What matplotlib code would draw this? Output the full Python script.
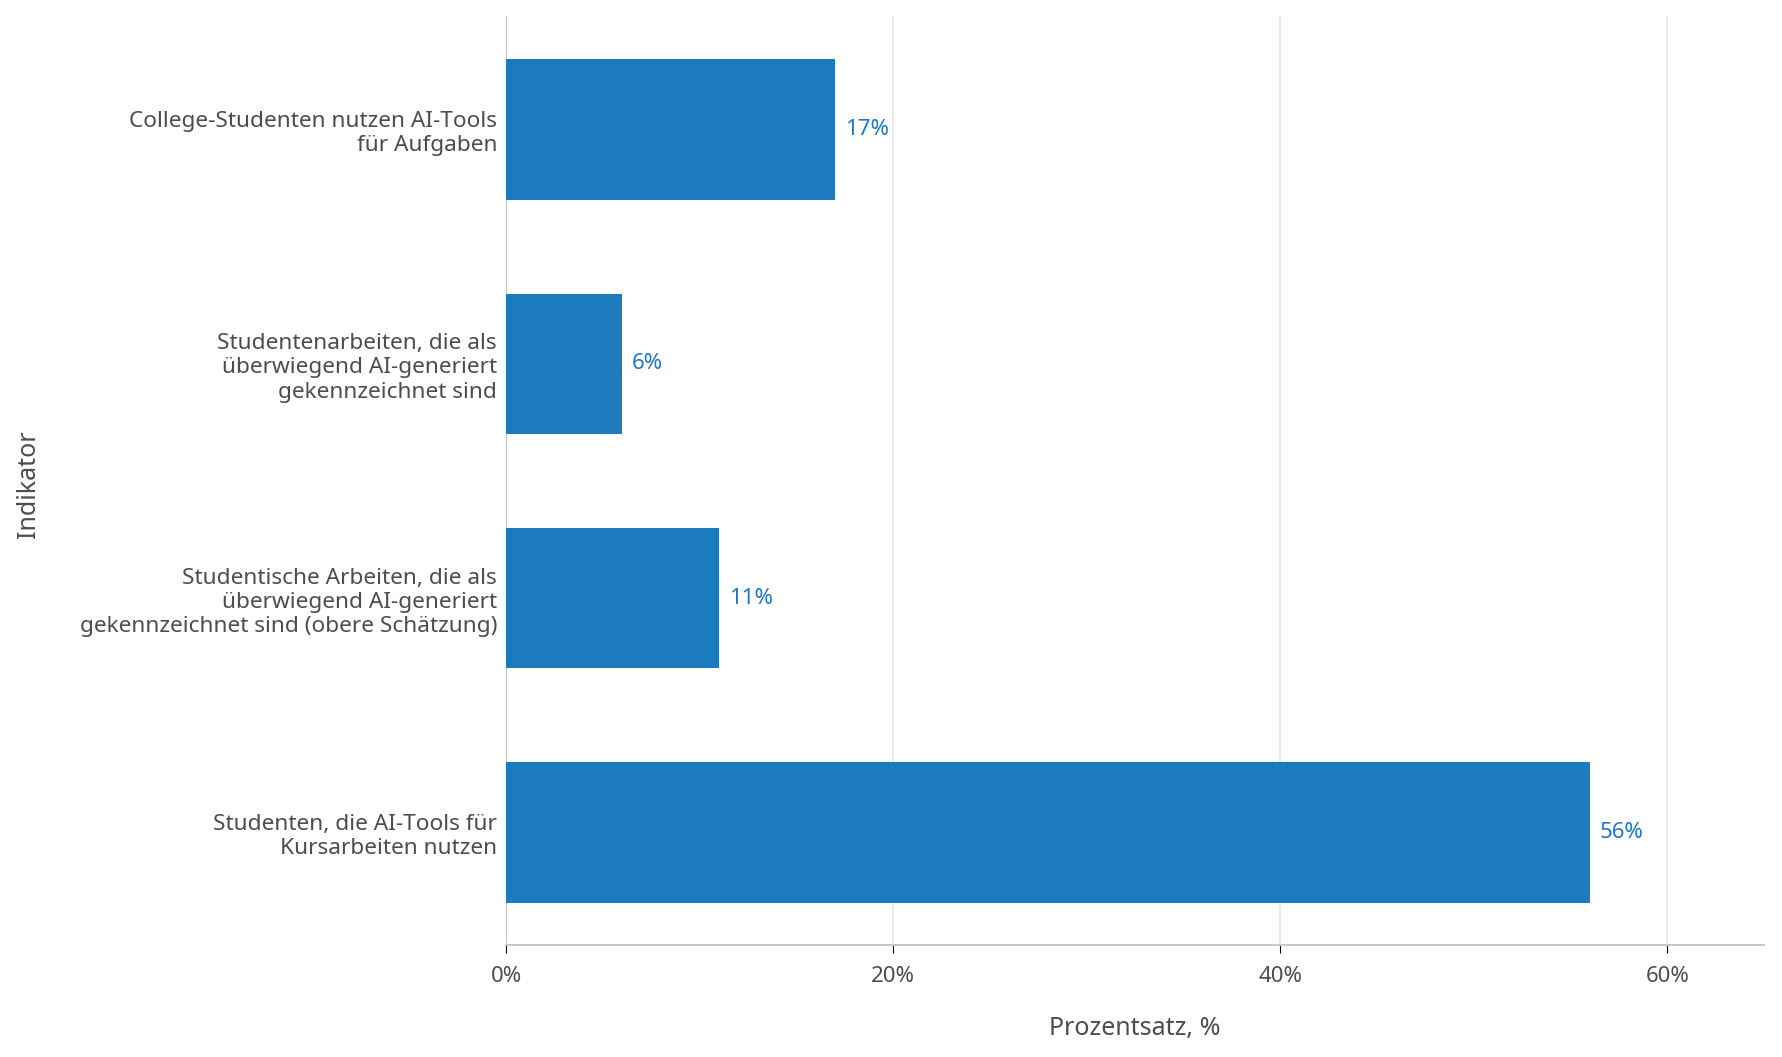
import matplotlib.pyplot as plt
from matplotlib.ticker import FuncFormatter

plt.rcParams['font.family'] = ['Noto Sans', 'DejaVu Sans']

# Daten (von oben nach unten)
indikatoren = [
    'College-Studenten nutzen AI-Tools\nfür Aufgaben',
    'Studentenarbeiten, die als\nüberwiegend AI-generiert\ngekennzeichnet sind',
    'Studentische Arbeiten, die als\nüberwiegend AI-generiert\ngekennzeichnet sind (obere Schätzung)',
    'Studenten, die AI-Tools für\nKursarbeiten nutzen',
]
werte = [17, 6, 11, 56]
x_ticks = [0, 20, 40, 60]

text_farbe = '#4d4d4d'
balken_farbe = '#1c7bbf'

fig = plt.figure(figsize=(17.82, 10.57), dpi=100)
ax = fig.add_axes([0.284, 0.106, 0.706, 0.879])

# umgekehrte Reihenfolge, damit der erste Eintrag oben steht
pos = list(range(len(werte)))[::-1]
ax.barh(pos, werte, height=0.6, color=balken_farbe, zorder=3)

for p, w in zip(pos, werte):
    ax.annotate(f'{w}%', xy=(w, p), xytext=(7, 0), textcoords='offset points',
                va='center', ha='left', fontsize=16, color='#1f77c8')

ax.set_xlim(0, 65)
ax.set_ylim(-0.48, 3.485)
ax.set_yticks(pos)
ax.set_yticklabels(indikatoren, fontsize=16.3, color=text_farbe, linespacing=1.2)
ax.set_xticks(x_ticks)
ax.xaxis.set_major_formatter(FuncFormatter(lambda v, _: f'{v:.0f}%'))
ax.tick_params(axis='x', labelsize=16, labelcolor=text_farbe, length=6,
               color='black', pad=9)
ax.tick_params(axis='y', length=0, pad=6.5)

ax.grid(axis='x', color='#e8e8e8', linewidth=1.2, zorder=0)
ax.set_axisbelow(True)

for s in ['top', 'right']:
    ax.spines[s].set_visible(False)
ax.spines['left'].set_color('#c8c8c8')
ax.spines['bottom'].set_color('#c8c8c8')
ax.spines['bottom'].set_linewidth(1.5)

ax.set_xlabel('Prozentsatz, %', fontsize=18, color=text_farbe, labelpad=21)
ax.set_ylabel('Indikator', fontsize=18, color=text_farbe)
ax.yaxis.set_label_coords(41 / 1782, 1 - 484 / 1057, transform=fig.transFigure)

fig.savefig('out.png', dpi=100, facecolor='white')
